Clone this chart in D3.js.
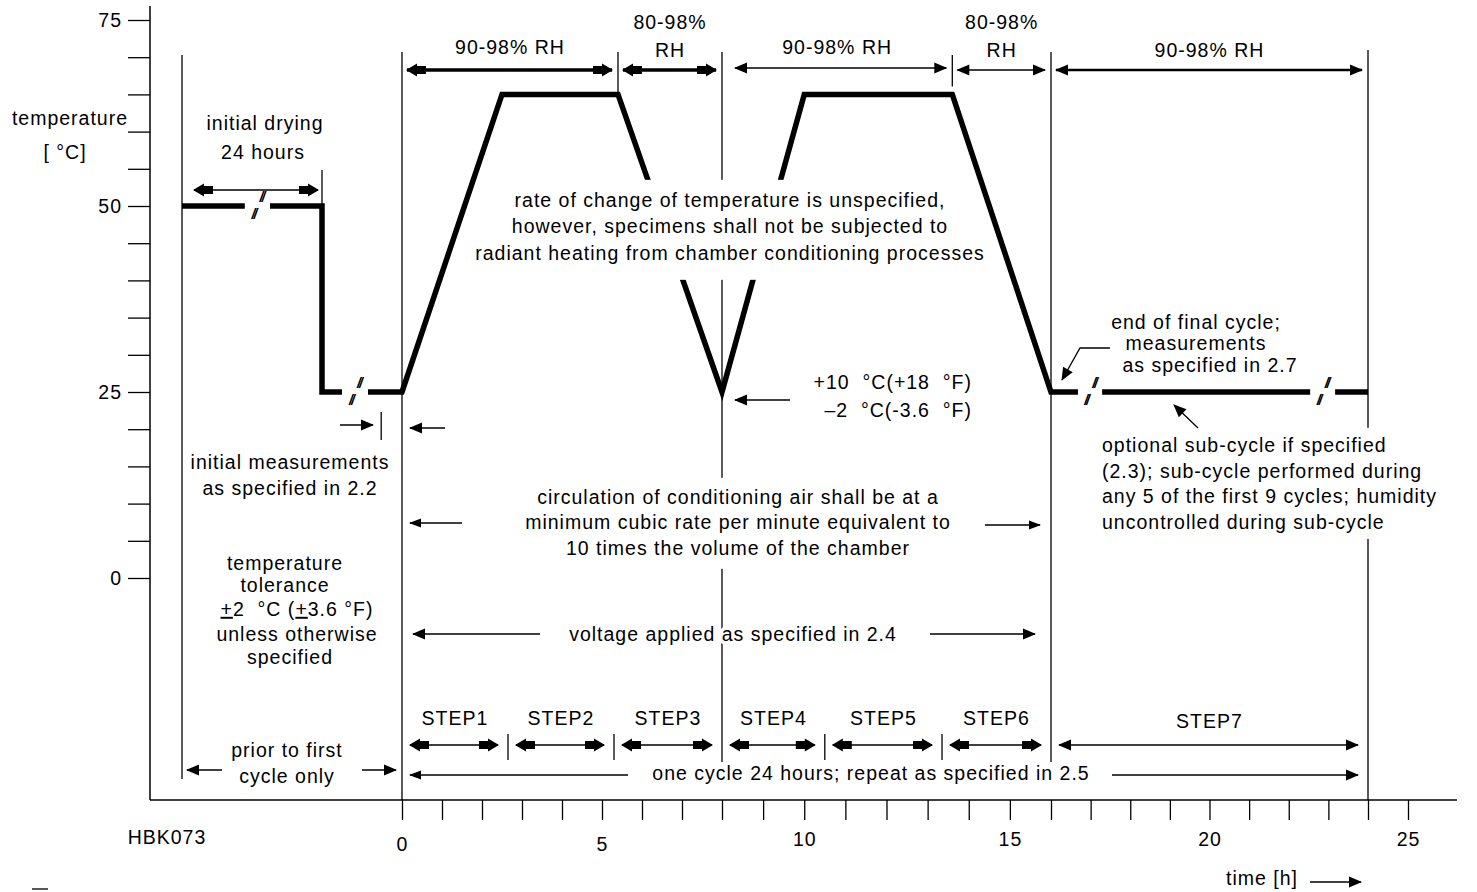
<!DOCTYPE html>
<html><head><meta charset="utf-8">
<script src="https://cdn.jsdelivr.net/npm/d3@7"></script>
<style>
body{margin:0;background:#fff}
svg text{font-family:"Liberation Sans",Arial,sans-serif;font-size:19.5px;letter-spacing:1px;fill:#000;white-space:pre}
.halo{stroke:#fff;stroke-width:7px;paint-order:stroke;stroke-linejoin:round}
</style></head><body>
<svg id="c" width="1477" height="892"></svg>
<script>
// ---------------- data ----------------
const hourKnots = [0, 8, 16, 24, 25];
const profileT = [-5.5, -2, -2, 0, 2.5, 5.4, 8, 10, 13.6, 16, 24];
const profileC = [50, 50, 25, 25, 65, 65, 25, 65, 65, 25, 25];
const lineGaps = [[-3.93, -3.3, 50], [-1.5, -0.85, 25], [16.68, 17.29, 25], [22.54, 23.17, 25]];
const xTickValues = d3.range(0, 26, 1);
const xTickLabels = [0, 5, 10, 15, 20, 25];
const yTickValues = d3.range(0, 76, 5);
const yTickLabels = [0, 25, 50, 75];
const rhBounds = [0, 5.4, 8, 13.6, 16, 24];
const rhLabels = [["90-98% RH"], ["80-98%", "RH"], ["90-98% RH"], ["80-98%", "RH"], ["90-98% RH"]];
const rhWeights = [3.5, 3.5, 1.5, 1.5, 2.6];
const stepBounds = [0, 2.65, 5.3, 8, 10.5, 13.35, 16, 24];
const stepNames = ["STEP1", "STEP2", "STEP3", "STEP4", "STEP5", "STEP6", "STEP7"];

// ---------------- scales ----------------
const svg = d3.select('#c');
const x = d3.scaleLinear().domain(hourKnots).range([402, 722, 1051, 1368, 1408]);
const y = d3.scaleLinear().domain([0, 75]).range([578, 20]);
const X0 = 150, Y0 = 800;

// markers
const defs = svg.append('defs');
function marker(id, d) {
  defs.append('marker').attr('id', id).attr('markerUnits', 'userSpaceOnUse')
    .attr('viewBox', '-24 -12 26 24').attr('markerWidth', 26).attr('markerHeight', 24)
    .attr('refX', 0).attr('refY', 0).attr('orient', 'auto-start-reverse')
    .append('path').attr('d', d).attr('fill', '#000');
}
marker('tri', 'M1,0 L-11,-4.5 L-11,4.5 Z');
marker('med', 'M1,0 L-12,-5.5 L-12,5.5 Z');
marker('big', 'M1,0 L-10,-6.5 L-10,6.5 Z M-10,-4 L-19,-4 L-19,4 L-10,4 Z');

function arrow(x1, y1, x2, y2, w, start, end) {
  const l = svg.append('line').attr('x1', x1).attr('y1', y1).attr('x2', x2).attr('y2', y2)
    .attr('stroke', '#000').attr('stroke-width', w);
  if (start) l.attr('marker-start', `url(#${start})`);
  if (end) l.attr('marker-end', `url(#${end})`);
  return l;
}
function vline(xp, ya, yb, w = 1.3) {
  svg.append('line').attr('x1', xp).attr('x2', xp).attr('y1', ya).attr('y2', yb)
    .attr('stroke', '#000').attr('stroke-width', w);
}
function label(txt, xp, yp, anchor = 'middle', cls = null) {
  const t = svg.append('text').attr('x', xp).attr('y', yp).attr('dy', '0.35em')
    .attr('text-anchor', anchor).text(txt);
  if (cls) t.attr('class', cls);
  return t;
}
// multi-line text; pad = [horizontal, extra top, extra bottom] for per-line white backgrounds
function block(lines, xp, y0, lh, anchor, pad) {
  const g = svg.append('g');
  const ts = lines.map((s, i) => g.append('text').attr('x', xp).attr('y', y0 + i * lh)
    .attr('dy', '0.35em').attr('text-anchor', anchor).text(s));
  if (pad) {
    ts.forEach((t, i) => {
      const b = t.node().getBBox();
      const top = i === 0 ? pad[1] : 3, bot = i === ts.length - 1 ? pad[2] : 3;
      g.insert('rect', 'text').attr('x', b.x - pad[0]).attr('y', b.y - top)
        .attr('width', b.width + 2 * pad[0]).attr('height', b.height + top + bot).attr('fill', '#fff');
    });
  }
  return g;
}

// ---------------- axes ----------------
const yAxis = d3.axisLeft(y).tickValues(yTickValues).tickSize(22).tickPadding(6)
  .tickFormat(d => yTickLabels.includes(d) ? d : '');
const gy = svg.append('g').attr('transform', `translate(${X0},0)`).call(yAxis);
gy.select('.domain').remove();
gy.selectAll('line').attr('stroke', '#000').attr('stroke-width', 1.3);
gy.selectAll('text').attr('font-size', null).attr('font-family', null).attr('fill', '#000');
vline(X0, 6, Y0, 1.5);

const xAxis = d3.axisBottom(x).tickValues(xTickValues).tickSize(20).tickPadding(12)
  .tickFormat(d => xTickLabels.includes(d) ? d : '');
const gx = svg.append('g').attr('transform', `translate(0,${Y0})`).call(xAxis);
gx.select('.domain').remove();
gx.selectAll('line').attr('stroke', '#000').attr('stroke-width', 1.3);
gx.selectAll('text').attr('font-size', null).attr('font-family', null).attr('fill', '#000')
  .attr('dy', d => d < 10 ? '0.95em' : '0.71em');
svg.append('line').attr('x1', X0).attr('x2', 1457).attr('y1', Y0).attr('y2', Y0)
  .attr('stroke', '#000').attr('stroke-width', 1.5);

// ---------------- guide lines ----------------
vline(x(-5.5), 55, 779);
vline(x(-2), 170, y(50));
vline(x(0), 52, Y0);
vline(x(rhBounds[1]), 52, y(65));
vline(x(8), 52, 762);
vline(x(rhBounds[3]), 55, y(65) - 8);
vline(x(16), 52, 762);
vline(x(24), 50, Y0);
vline(x(-0.52), 412, 440);
[1, 2, 4, 5].forEach(i => vline(x(stepBounds[i]), 734, 760));

// ---------------- temperature profile ----------------
const pts = profileT.map((t, i) => [x(t), y(profileC[i])]);
svg.append('path').attr('d', d3.line()(pts)).attr('fill', 'none').attr('stroke', '#000')
  .attr('stroke-width', 5.5).attr('stroke-linejoin', 'miter').attr('stroke-miterlimit', 10);
lineGaps.forEach(([a, b, c]) => {
  svg.append('line').attr('x1', x(a)).attr('x2', x(b)).attr('y1', y(c)).attr('y2', y(c))
    .attr('stroke', '#fff').attr('stroke-width', 9);
  const cx = (x(a) + x(b)) / 2, cy = y(c);
  [[4, -9], [-4, 8]].forEach(([dx, dy]) => svg.append('text').attr('x', cx + dx).attr('y', cy + dy)
    .attr('dy', '0.35em').attr('text-anchor', 'middle').attr('font-style', 'italic')
    .style('font-size', '14px').style('letter-spacing', '-2px').style('font-weight', 'bold').text('//'));
});

// ---------------- RH arrows ----------------
rhLabels.forEach((lab, i) => {
  const a = x(rhBounds[i]), b = x(rhBounds[i + 1]);
  const yy = i === 2 ? 68 : 70;
  const mk = rhWeights[i] > 3 ? 'big' : 'med';
  arrow(a + (i === 2 ? 13 : 5), yy, b - 6, yy, rhWeights[i], mk, mk);
  const cx = (a + b) / 2;
  if (lab.length === 2) { label(lab[0], cx, 22); label(lab[1], cx, 50); }
  else label(lab[0], cx, i === 4 ? 50 : 47);
});

// ---------------- STEP arrows ----------------
stepNames.forEach((s, i) => {
  const a = x(stepBounds[i]), b = x(stepBounds[i + 1]);
  const last = i === stepNames.length - 1;
  arrow(a + 8, 745, b - 10, 745, last ? 1.5 : 1.6, last ? 'med' : 'big', last ? 'med' : 'big');
  label(s, (a + b) / 2, last ? 721 : 718);
});

// ---------------- text blocks ----------------
label('temperature', 70, 118);
label('[ °C]', 65, 152);
label('initial drying', 265, 123);
label('24 hours', 263, 152);
arrow(x(-5.2), 190, x(-2.1), 190, 1.5, 'big', 'big');

block(['rate of change of temperature is unspecified,',
       'however, specimens shall not be subjected to',
       'radiant heating from chamber conditioning processes'], 730, 200, 26.5, 'middle', [1, 9, 16]);

block(['+10  °C(+18  °F)', '–2  °C(-3.6  °F)'], 972, 382, 28, 'end', null);
arrow(790, 400, 735, 400, 1.5, null, 'med');

block(['end of final cycle;', 'measurements'], 1196, 322, 21.5, 'middle', null);
label('as specified in 2.7', 1210, 365);
svg.append('path').attr('d', 'M1110,348 L1080,348 L1062,380').attr('fill', 'none')
  .attr('stroke', '#000').attr('stroke-width', 1.3).attr('marker-end', 'url(#med)');

block(['optional sub-cycle if specified', '(2.3); sub-cycle performed during',
       'any 5 of the first 9 cycles; humidity', 'uncontrolled during sub-cycle'], 1102, 445, 25.7, 'start', [4, 6, 6]);
arrow(1198, 428, 1174, 405, 1.3, null, 'med');

label('initial measurements', 290, 462);
label('as specified in 2.2', 290, 488);
arrow(340, 425, 373, 425, 1.5, null, 'med');
arrow(445, 428, 410, 428, 1.5, null, 'med');

block(['circulation of conditioning air shall be at a',
       'minimum cubic rate per minute equivalent to',
       '10 times the volume of the chamber'], 738, 497, 25.5, 'middle', [4, 8, 10]);
arrow(462, 523, 410, 523, 1.5, null, 'tri');
arrow(985, 525, 1040, 525, 1.5, null, 'tri');

label('temperature', 285, 563);
label('tolerance', 285, 585);
const tol = svg.append('text').attr('x', 297).attr('y', 609).attr('dy', '0.35em').attr('text-anchor', 'middle');
tol.append('tspan').attr('text-decoration', 'underline').text('+');
tol.append('tspan').text('2  °C (');
tol.append('tspan').attr('text-decoration', 'underline').text('+');
tol.append('tspan').text('3.6 °F)');
label('unless otherwise', 297, 634);
label('specified', 290, 657);

label('voltage applied as specified in 2.4', 733, 634, 'middle', 'halo');
arrow(540, 634, 413, 634, 1.5, null, 'med');
arrow(930, 634, 1035, 634, 1.5, null, 'med');

label('prior to first', 287, 750);
label('cycle only', 287, 776);
arrow(222, 770, 187, 770, 1.5, null, 'med');
arrow(362, 770, 396, 770, 1.5, null, 'med');

label('one cycle 24 hours; repeat as specified in 2.5', 871, 773);
arrow(628, 775, 410, 775, 1.5, null, 'tri');
arrow(1112, 775, 1358, 775, 1.5, null, 'med');

label('HBK073', 167, 837);
label('time [h]', 1262, 878);
arrow(1310, 882, 1361, 882, 1.5, null, 'med');
svg.append('line').attr('x1', 32).attr('x2', 48).attr('y1', 889).attr('y2', 889)
  .attr('stroke', '#000').attr('stroke-width', 1.3);
</script>
</body></html>
